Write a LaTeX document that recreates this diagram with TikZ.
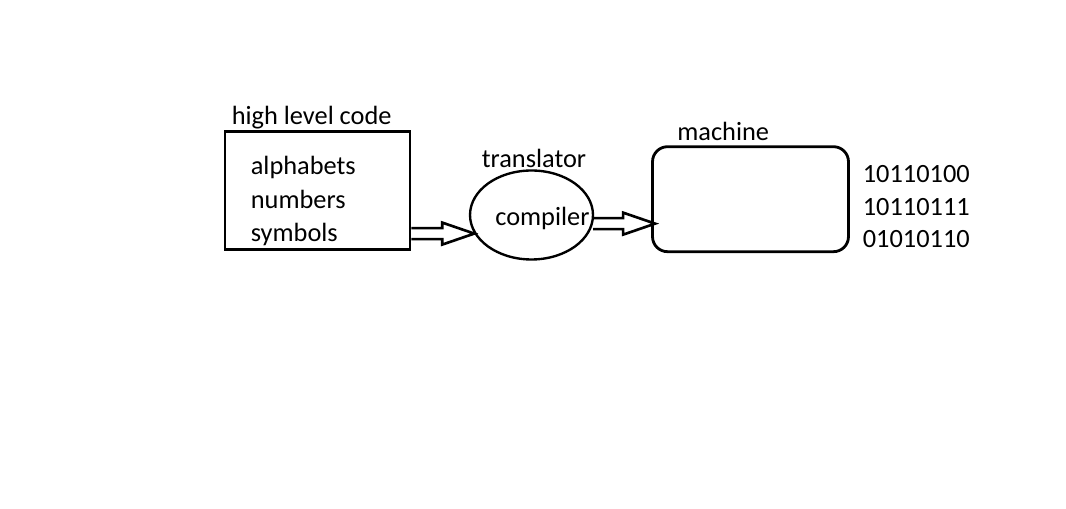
\documentclass[tikz,border=0pt]{standalone}
\usepackage{fontspec}
\setmainfont{Carlito}
\usetikzlibrary{calc,shapes.geometric}

\tikzset{
  box/.style={draw, line width=1.6pt},
  txt/.style={anchor=base west, inner sep=0pt, font=\fontsize{15}{18}\selectfont},
  pipe/.style={line width=1.5pt},
}
% hollow fat arrow: #1 = start point, #2 = tip (same height)
\newcommand{\fatarrow}[2]{%
  \draw[pipe] ($(#1)+(0,-5.5)$) -- ($(#2)+(-32,-5.5)$) -- ($(#2)+(-32,-11)$) -- (#2)
    -- ($(#2)+(-32,11)$) -- ($(#2)+(-32,5.5)$) -- ($(#1)+(0,5.5)$);}

\begin{document}
\begin{tikzpicture}[x=0.02cm, y=-0.02cm]
    \useasboundingbox (0,0) rectangle (1066,509);
    % source code
    \node[box, minimum width=3.7cm, minimum height=2.36cm] (hlc) at (317.5,190.5) {};
    \node[txt] (hlcname) at (231.5,125) {high level code};
    \node[txt] (alpha) at (250.5,175) {alphabets};
    \node[txt] (num)   at (250.5,208.5) {numbers};
    \node[txt] (sym)   at (250.5,241.5) {symbols};
    % translator
    \node[draw, ellipse, line width=1.35pt, minimum width=2.46cm, minimum height=1.78cm] (cmp) at (531.5,215) {};
    \node[txt] (trname) at (481.5,167.5) {translator};
    \node[txt] (cmpname) at (495,225.5) {compiler};
    % machine
    \node[box, rounded corners=0.3cm, minimum width=3.92cm, minimum height=2.1cm] (mach) at (750.5,199.2) {};
    \node[txt] (machname) at (677,141) {machine};
    \node[txt] (b1) at (862.5,182.5) {10110100};
    \node[txt] (b2) at (862.5,215.5) {10110111};
    \node[txt] (b3) at (862.5,248) {01010110};
    % arrows
    \coordinate (tipa) at (cmp.198);
    \coordinate (tipb) at ($(mach.west |- cmp.352)+(4,0)$);
    \fatarrow{hlc.east |- tipa}{tipa}
    \fatarrow{cmp.352}{tipb}
\end{tikzpicture}
\end{document}
